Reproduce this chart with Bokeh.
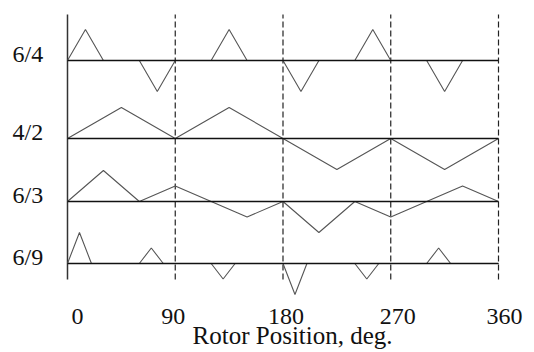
from bokeh.plotting import figure
from bokeh.models import Range1d
from bokeh.core.properties import value
from bokeh.embed import file_html
from bokeh.resources import INLINE

# ---- data (normalised torque shapes vs rotor position, deg) ----
angles_64 = [0, 15, 30, 60, 75, 90, 120, 135, 150, 180, 195, 210, 240, 255, 270, 300, 315, 330, 360]
torque_64 = [0, 1, 0, 0, -1, 0, 0, 1, 0, 0, -1, 0, 0, 1, 0, 0, -1, 0, 0]

angles_42 = [0, 45, 90, 135, 180, 225, 270, 315, 360]
torque_42 = [0, 1, 0, 1, 0, -1, 0, -1, 0]

angles_63 = [0, 30, 60, 90, 150, 180, 210, 240, 270, 330, 360]
torque_63 = [0, 1, 0, 0.5, -0.5, 0, -1, 0, -0.5, 0.5, 0]

angles_69 = [0, 10, 20, 60, 70, 80, 120, 130, 140, 180, 190, 200, 240, 250, 260, 300, 310, 320, 360]
torque_69 = [0, 1, 0, 0, 0.5, 0, 0, -0.5, 0, 0, -1, 0, 0, -0.5, 0, 0, 0.5, 0, 0]

series_labels = ["6/4", "4/2", "6/3", "6/9"]
tick_angles = [0, 90, 180, 270, 360]
tick_labels = ["0", "90", "180", "270", "360"]
x_title = "Rotor Position, deg."

# ---- layout (positions / sizes) ----
W, H = 534, 352
AMP = 31.0                      # vertical size of a unit torque pulse
baselines = [292, 214, 151, 89]  # vertical position of each trace's zero line
grid_top, grid_bottom = 338, 73
FONT = value("Liberation Serif")

p = figure(width=W, height=H, output_backend="svg", toolbar_location=None,
           x_range=Range1d(-55.96, 390.07), y_range=Range1d(0, H),
           min_border=0, outline_line_color=None)
p.axis.visible = False
p.grid.visible = False
p.background_fill_color = "white"

# vertical reference lines
p.segment(x0=[0], y0=[grid_bottom], x1=[0], y1=[grid_top], line_color="#333333", line_width=1.5)
p.segment(x0=tick_angles[1:], y0=[grid_bottom] * 4, x1=tick_angles[1:], y1=[grid_top] * 4,
          line_color="#222222", line_width=1.2, line_dash="6 3")

series = [(angles_64, torque_64), (angles_42, torque_42), (angles_63, torque_63), (angles_69, torque_69)]
for (ang, tq), base, lab in zip(series, baselines, series_labels):
    p.line(ang, [base + AMP * t for t in tq], line_color="#555555", line_width=1.1)
    p.segment(x0=[0], y0=[base], x1=[360], y1=[base], line_color="#111111", line_width=1.4)
    p.text(x=[0], y=[base], text=[lab], x_offset=-55, y_offset=-7,
           text_font=FONT, text_font_size="24px", text_color="#111111",
           text_align="left", text_baseline="alphabetic")

# tick labels
offs = [10, -2, 3, 7, 6]
for a, t, o in zip(tick_angles, tick_labels, offs):
    p.text(x=[a], y=[0], text=[t], x_offset=o, y_offset=-36,
           text_font=FONT, text_font_size="24px", text_color="#111111",
           text_align="center", text_baseline="alphabetic")

p.text(x=[188], y=[0], text=[x_title], y_offset=-17,
       text_font=FONT, text_font_size="25px", text_color="#111111",
       text_align="center", text_baseline="alphabetic")

open("out.html", "w").write(file_html(p, INLINE))
